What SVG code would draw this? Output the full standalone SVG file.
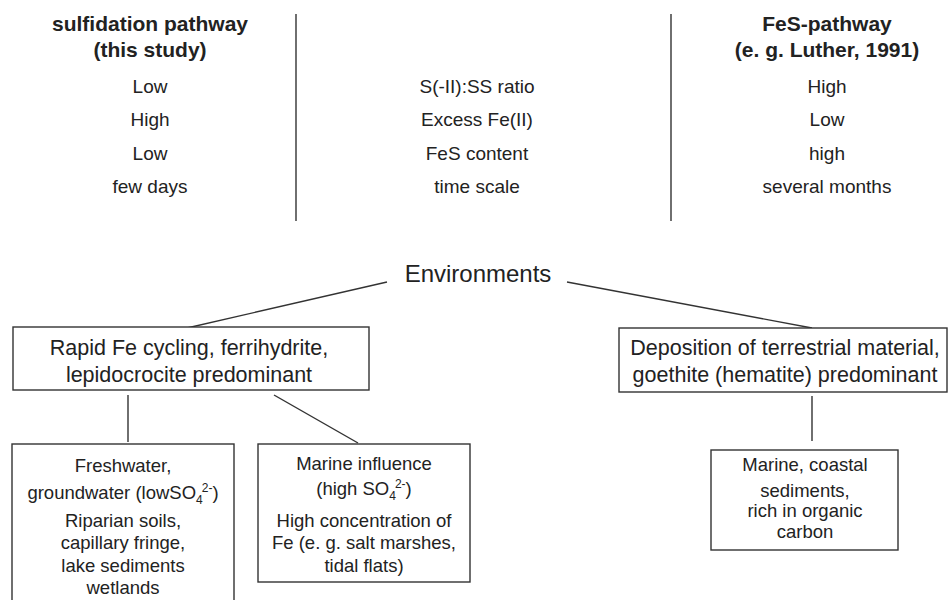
<svg xmlns="http://www.w3.org/2000/svg" width="948" height="600" viewBox="0 0 948 600">
<style>
text{font-family:"Liberation Sans",Arial,sans-serif;fill:#222;text-anchor:middle}
.h{font-weight:bold;font-size:21px}
.v{font-size:19px}
.b{font-size:21.5px}
.s{font-size:18.5px}
.e{font-size:24px}
.sm{font-size:12px}
rect{fill:#fff;stroke:#333;stroke-width:1.4}
line{stroke:#333;stroke-width:1.4}
</style>
<rect x="0" y="0" width="948" height="600" style="stroke:none"/>
<g id="separators">
<line x1="296" y1="14" x2="296" y2="221"/>
<line x1="671" y1="14" x2="671" y2="221"/>
</g>
<g id="col-left">
<text class="h" x="150" y="31">sulfidation pathway</text>
<text class="h" x="150" y="57">(this study)</text>
<text class="v" x="150" y="93">Low</text>
<text class="v" x="150" y="126">High</text>
<text class="v" x="150" y="160">Low</text>
<text class="v" x="150" y="193">few days</text>
</g>
<g id="col-mid">
<text class="v" x="477" y="93">S(-II):SS ratio</text>
<text class="v" x="477" y="126">Excess Fe(II)</text>
<text class="v" x="477" y="160">FeS content</text>
<text class="v" x="477" y="193">time scale</text>
</g>
<g id="col-right">
<text class="h" x="827" y="31">FeS-pathway</text>
<text class="h" x="827" y="57">(e. g. Luther, 1991)</text>
<text class="v" x="827" y="93">High</text>
<text class="v" x="827" y="126">Low</text>
<text class="v" x="827" y="160">high</text>
<text class="v" x="827" y="193">several months</text>
</g>
<g id="connectors">
<line x1="387" y1="282" x2="187" y2="328"/>
<line x1="567" y1="282" x2="812" y2="328"/>
<line x1="128" y1="395" x2="128" y2="442"/>
<line x1="274" y1="395" x2="358" y2="443"/>
<line x1="812" y1="396" x2="812" y2="441"/>
</g>
<g id="environments">
<text class="e" x="478" y="282">Environments</text>
</g>
<g id="rapid-fe">
<rect x="13" y="327" width="356" height="63"/>
<text class="b" x="189" y="355">Rapid Fe cycling, ferrihydrite,</text>
<text class="b" x="189" y="382">lepidocrocite predominant</text>
</g>
<g id="deposition">
<rect x="619" y="328" width="328" height="64"/>
<text class="b" x="785" y="355">Deposition of terrestrial material,</text>
<text class="b" x="785" y="382">goethite (hematite) predominant</text>
</g>
<g id="freshwater">
<rect x="12" y="444" width="222" height="170"/>
<text class="s" x="123" y="472">Freshwater,</text>
<text class="s" x="123" y="499">groundwater (lowSO<tspan class="sm" dy="5">4</tspan><tspan class="sm" dx="-1" dy="-12">2-</tspan><tspan dy="7">)</tspan></text>
<text class="s" x="123" y="527">Riparian soils,</text>
<text class="s" x="123" y="549">capillary fringe,</text>
<text class="s" x="123" y="572">lake sediments</text>
<text class="s" x="123" y="594">wetlands</text>
</g>
<g id="marine-influence">
<rect x="258" y="444" width="212" height="138"/>
<text class="s" x="364" y="470">Marine influence</text>
<text class="s" x="364" y="495">(high SO<tspan class="sm" dy="5">4</tspan><tspan class="sm" dx="-1" dy="-12">2-</tspan><tspan dy="7">)</tspan></text>
<text class="s" x="364" y="527">High concentration of</text>
<text class="s" x="364" y="549">Fe (e. g. salt marshes,</text>
<text class="s" x="364" y="572">tidal flats)</text>
</g>
<g id="marine-coastal">
<rect x="711" y="450" width="187" height="100"/>
<text class="s" x="805" y="471">Marine, coastal</text>
<text class="s" x="805" y="497">sediments,</text>
<text class="s" x="805" y="517">rich in organic</text>
<text class="s" x="805" y="538">carbon</text>
</g>
</svg>
